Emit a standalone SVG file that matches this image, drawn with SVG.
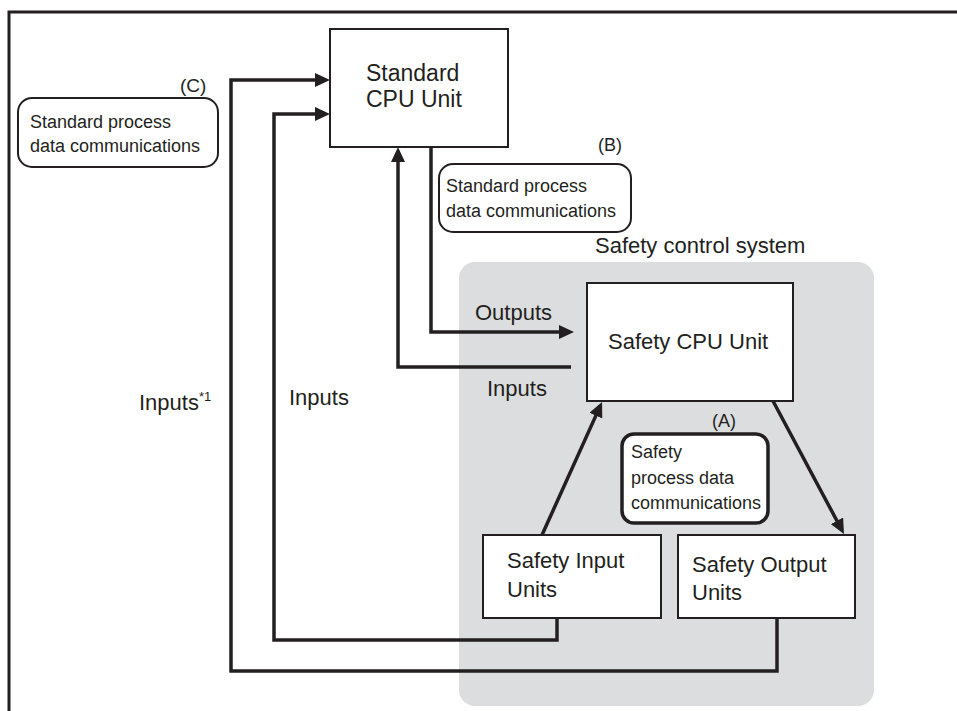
<svg xmlns="http://www.w3.org/2000/svg" width="957" height="711" viewBox="0 0 957 711">
<defs>
<style>
text{font-family:"Liberation Sans",Arial,sans-serif;fill:#231f20}
.box{fill:#fff;stroke:#231f20;stroke-width:2}
.rb{fill:#fff;stroke:#231f20;stroke-width:2}
.rbA{fill:#fff;stroke:#231f20;stroke-width:3.5}
.con{fill:none;stroke:#231f20;stroke-width:3.5;stroke-linejoin:miter}
.arr{marker-end:url(#ah)}
.t23{font-size:23px}
.t22{font-size:22px}
.t19{font-size:19px}
.t18{font-size:18px}
</style>
<marker id="ah" markerUnits="userSpaceOnUse" markerWidth="16" markerHeight="14" refX="11" refY="7" orient="auto">
<path d="M0,0 L15,7 L0,14 z" fill="#231f20"/>
</marker>
</defs>
<rect width="957" height="711" fill="#fff"/>
<path d="M9,711 V12 H957" fill="none" stroke="#231f20" stroke-width="3"/>

<g id="safety-system">
<rect x="459" y="262" width="415" height="444" rx="16" fill="#dcdddf"/>
<text class="t22" x="595" y="253">Safety control system</text>
</g>

<g id="connectors">
<path class="con arr" d="M777,618 V671 H231 V80 H326"/>
<path class="con arr" d="M557,618 V640 H274 V114 H326"/>
<path class="con arr" d="M571,367 H398 V151"/>
<path class="con arr" d="M431,147 V332 H570"/>
<path class="con arr" d="M542,535 L600.4,405.6"/>
<path class="con arr" d="M773,401 L842.1,530.5"/>
</g>

<g id="standard-cpu">
<rect class="box" x="330" y="29" width="178" height="118"/>
<text class="t23" x="366" y="81">Standard</text>
<text class="t23" x="366" y="107">CPU Unit</text>
</g>

<g id="safety-cpu">
<rect class="box" x="587" y="283" width="206" height="118"/>
<text class="t22" x="608" y="349">Safety CPU Unit</text>
</g>

<g id="safety-input">
<rect class="box" x="483" y="535" width="178" height="83"/>
<text class="t22" x="507" y="568">Safety Input</text>
<text class="t22" x="507" y="597">Units</text>
</g>

<g id="safety-output">
<rect class="box" x="678" y="535" width="177" height="83"/>
<text class="t22" x="692" y="572">Safety Output</text>
<text class="t22" x="692" y="600">Units</text>
</g>

<g id="label-c">
<text class="t19" x="180" y="92">(C)</text>
<rect class="rb" x="18" y="98" width="200" height="69" rx="14"/>
<text class="t18" x="30" y="128">Standard process</text>
<text class="t18" x="30" y="152">data communications</text>
</g>

<g id="label-b">
<text class="t18" x="598" y="151">(B)</text>
<rect class="rb" x="439" y="164" width="192" height="68" rx="14"/>
<text class="t18" x="446" y="192">Standard process</text>
<text class="t18" x="446" y="217">data communications</text>
</g>

<g id="label-a">
<text class="t18" x="712" y="427">(A)</text>
<rect class="rbA" x="622" y="434" width="146" height="89" rx="12"/>
<text class="t18" x="631" y="458">Safety</text>
<text class="t18" x="631" y="484">process data</text>
<text class="t18" x="631" y="509">communications</text>
</g>

<g id="flow-labels">
<text class="t22" x="475" y="320">Outputs</text>
<text class="t22" x="487" y="396">Inputs</text>
<text class="t22" x="289" y="405">Inputs</text>
<text class="t22" x="139" y="410">Inputs<tspan font-size="13" dy="-9">*1</tspan></text>
</g>
</svg>
